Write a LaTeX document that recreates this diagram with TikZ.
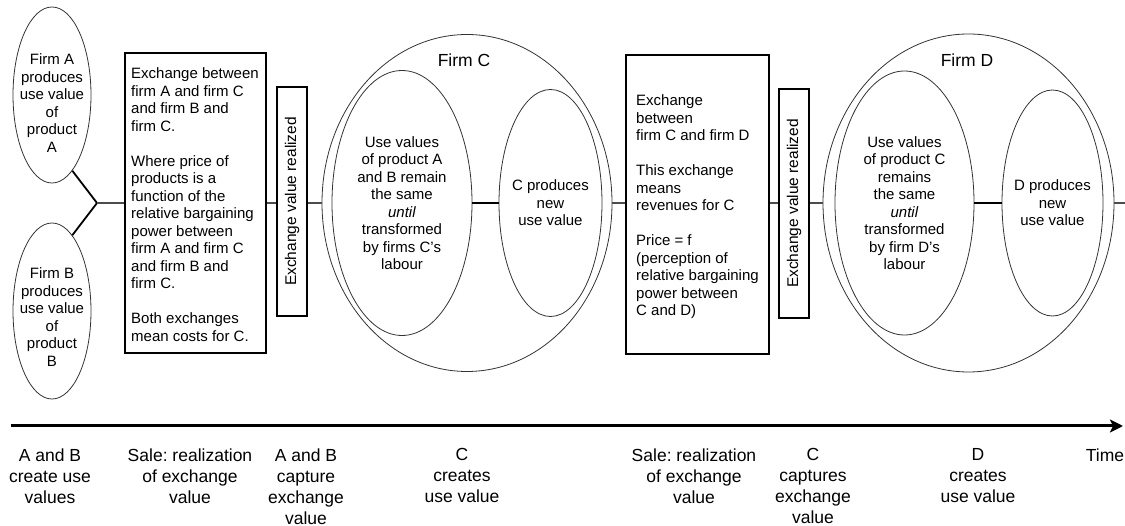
\documentclass[tikz,border=0pt]{standalone}
\usepackage{fontspec}
\setmainfont{Liberation Sans}
\usetikzlibrary{shapes.geometric,arrows.meta}
\frenchspacing
\begin{document}
\begin{tikzpicture}[x=1pt,y=1pt,
  ell/.style={draw=black!80, line width=0.8pt, ellipse, inner sep=0pt},
  boxs/.style={draw=black, line width=1.1pt, rectangle, inner sep=0pt},
  txt/.style={font=\fontsize{15}{17.5}\selectfont, align=center, inner sep=0pt},
  ltxt/.style={font=\fontsize{15}{17.5}\selectfont, align=left, inner sep=0pt, anchor=north west},
  vtxt/.style={font=\fontsize{15.5}{18}\selectfont, rotate=90, inner sep=0pt},
  ftxt/.style={font=\fontsize{17.5}{21}\selectfont, inner sep=0pt},
  btxt/.style={font=\fontsize{17.5}{21}\selectfont, align=center, inner sep=0pt, anchor=north},
  link/.style={draw=black!70, line width=1.4pt},
  fork/.style={draw=black, line width=1.8pt},
  timeline/.style={draw=black, line width=3pt, -{Stealth[length=13pt,width=13pt,inset=3pt]}}
]
\useasboundingbox (0,0) rectangle (1125,-526);

% Firms A and B
\node[ell, minimum width=78pt, minimum height=176pt] (A) at (52,-95) {};
\node[ell, minimum width=78pt, minimum height=176pt] (B) at (52,-311) {};
\node[txt] (At) at (52,-103) {Firm A\\produces\\use value\\of\\product\\A};
\node[txt] (Bt) at (52,-317) {Firm B\\produces\\use value\\of\\product\\B};
\coordinate (J) at (97,-203);

% Exchange box 1
\node[boxs, minimum width=141pt, minimum height=300pt] (b1) at (195.5,-203) {};
\node[ltxt] (b1t) at (131,-67.5) {Exchange between\\firm A and firm C\\and firm B and\\firm C.\\[17.5pt]Where price of\\products is a\\function of the\\relative bargaining\\power between\\firm A and firm C\\and firm B and\\firm C.\\[17.5pt]Both exchanges\\mean costs for C.};

\node[boxs, minimum width=30pt, minimum height=229pt] (vb1) at (292,-201.5) {};
\node[vtxt] (vb1t) at (vb1) {Exchange value realized};

% Firm C
\node[ell, minimum width=290pt, minimum height=337pt] (C) at (467,-203) {};
\node[ftxt] (Ct) at (464,-60) {Firm C};
\node[ell, minimum width=140pt, minimum height=265pt] (CL) at (402,-203) {};
\node[ell, minimum width=103pt, minimum height=227pt] (CR) at (550.5,-203) {};
\node[txt] (CLt) at (CL) {Use values\\of product A\\and B remain\\the same\\\textit{until}\\transformed\\by firms C's\\labour};
\node[txt] (CRt) at (CR) {C produces\\new\\use value};

% Exchange box 2
\node[boxs, minimum width=143pt, minimum height=299pt] (b2) at (697.5,-204.5) {};
\node[ltxt] (b2t) at (636,-94.5) {Exchange\\between\\firm C and firm D\\[17.5pt]This exchange\\means\\revenues for C\\[17.5pt]Price = f\\(perception of\\relative bargaining\\power between\\C and D)};

\node[boxs, minimum width=30pt, minimum height=229pt] (vb2) at (794,-203.5) {};
\node[vtxt] (vb2t) at (vb2) {Exchange value realized};

% Firm D
\node[ell, minimum width=291pt, minimum height=338pt] (D) at (968.5,-203) {};
\node[ftxt] (Dt) at (967,-60) {Firm D};
\node[ell, minimum width=139pt, minimum height=264pt] (DL) at (904.5,-203) {};
\node[ell, minimum width=101pt, minimum height=226pt] (DR) at (1052.5,-203) {};
\node[txt] (DLt) at (DL) {Use values\\of product C\\remains\\the same\\\textit{until}\\transformed\\by firm D's\\labour};
\node[txt] (DRt) at (DR) {D produces\\new\\use value};

% connectors
\draw[fork] (A.-75) -- (J) -- (B.75);
\draw[link] (J) -- (J -| b1.west);
\draw[link] (J -| b1.east) -- (J -| vb1.west);
\draw[link] (J -| vb1.east) -- (C.west);
\draw[fork] (CL.east) -- (CR.west);
\draw[link] (C.east) -- (J -| b2.west);
\draw[link] (J -| b2.east) -- (J -| vb2.west);
\draw[link] (J -| vb2.east) -- (D.west);
\draw[fork] (DL.east) -- (DR.west);
\coordinate (E) at (1125,-203);
\draw[link] (D.east) -- (E);

% timeline
\coordinate (T0) at (11,-426);
\coordinate (T1) at (1123,-426);
\draw[timeline] (T0) -- (T1);

\node[btxt] (L1) at (50,-448.5) {A and B\\create use\\values};
\node[btxt] (L2) at (190,-448.5) {Sale: realization\\of exchange\\value};
\node[btxt] (L3) at (306,-448.5) {A and B\\capture\\exchange\\value};
\node[btxt] (L4) at (462,-448.5) {C\\creates\\use value};
\node[btxt] (L5) at (694,-448.5) {Sale: realization\\of exchange\\value};
\node[btxt] (L6) at (813,-448.5) {C\\captures\\exchange\\value};
\node[btxt] (L7) at (978,-448.5) {D\\creates\\use value};
\node[btxt] (L8) at (1105,-448.5) {Time};
\end{tikzpicture}
\end{document}
